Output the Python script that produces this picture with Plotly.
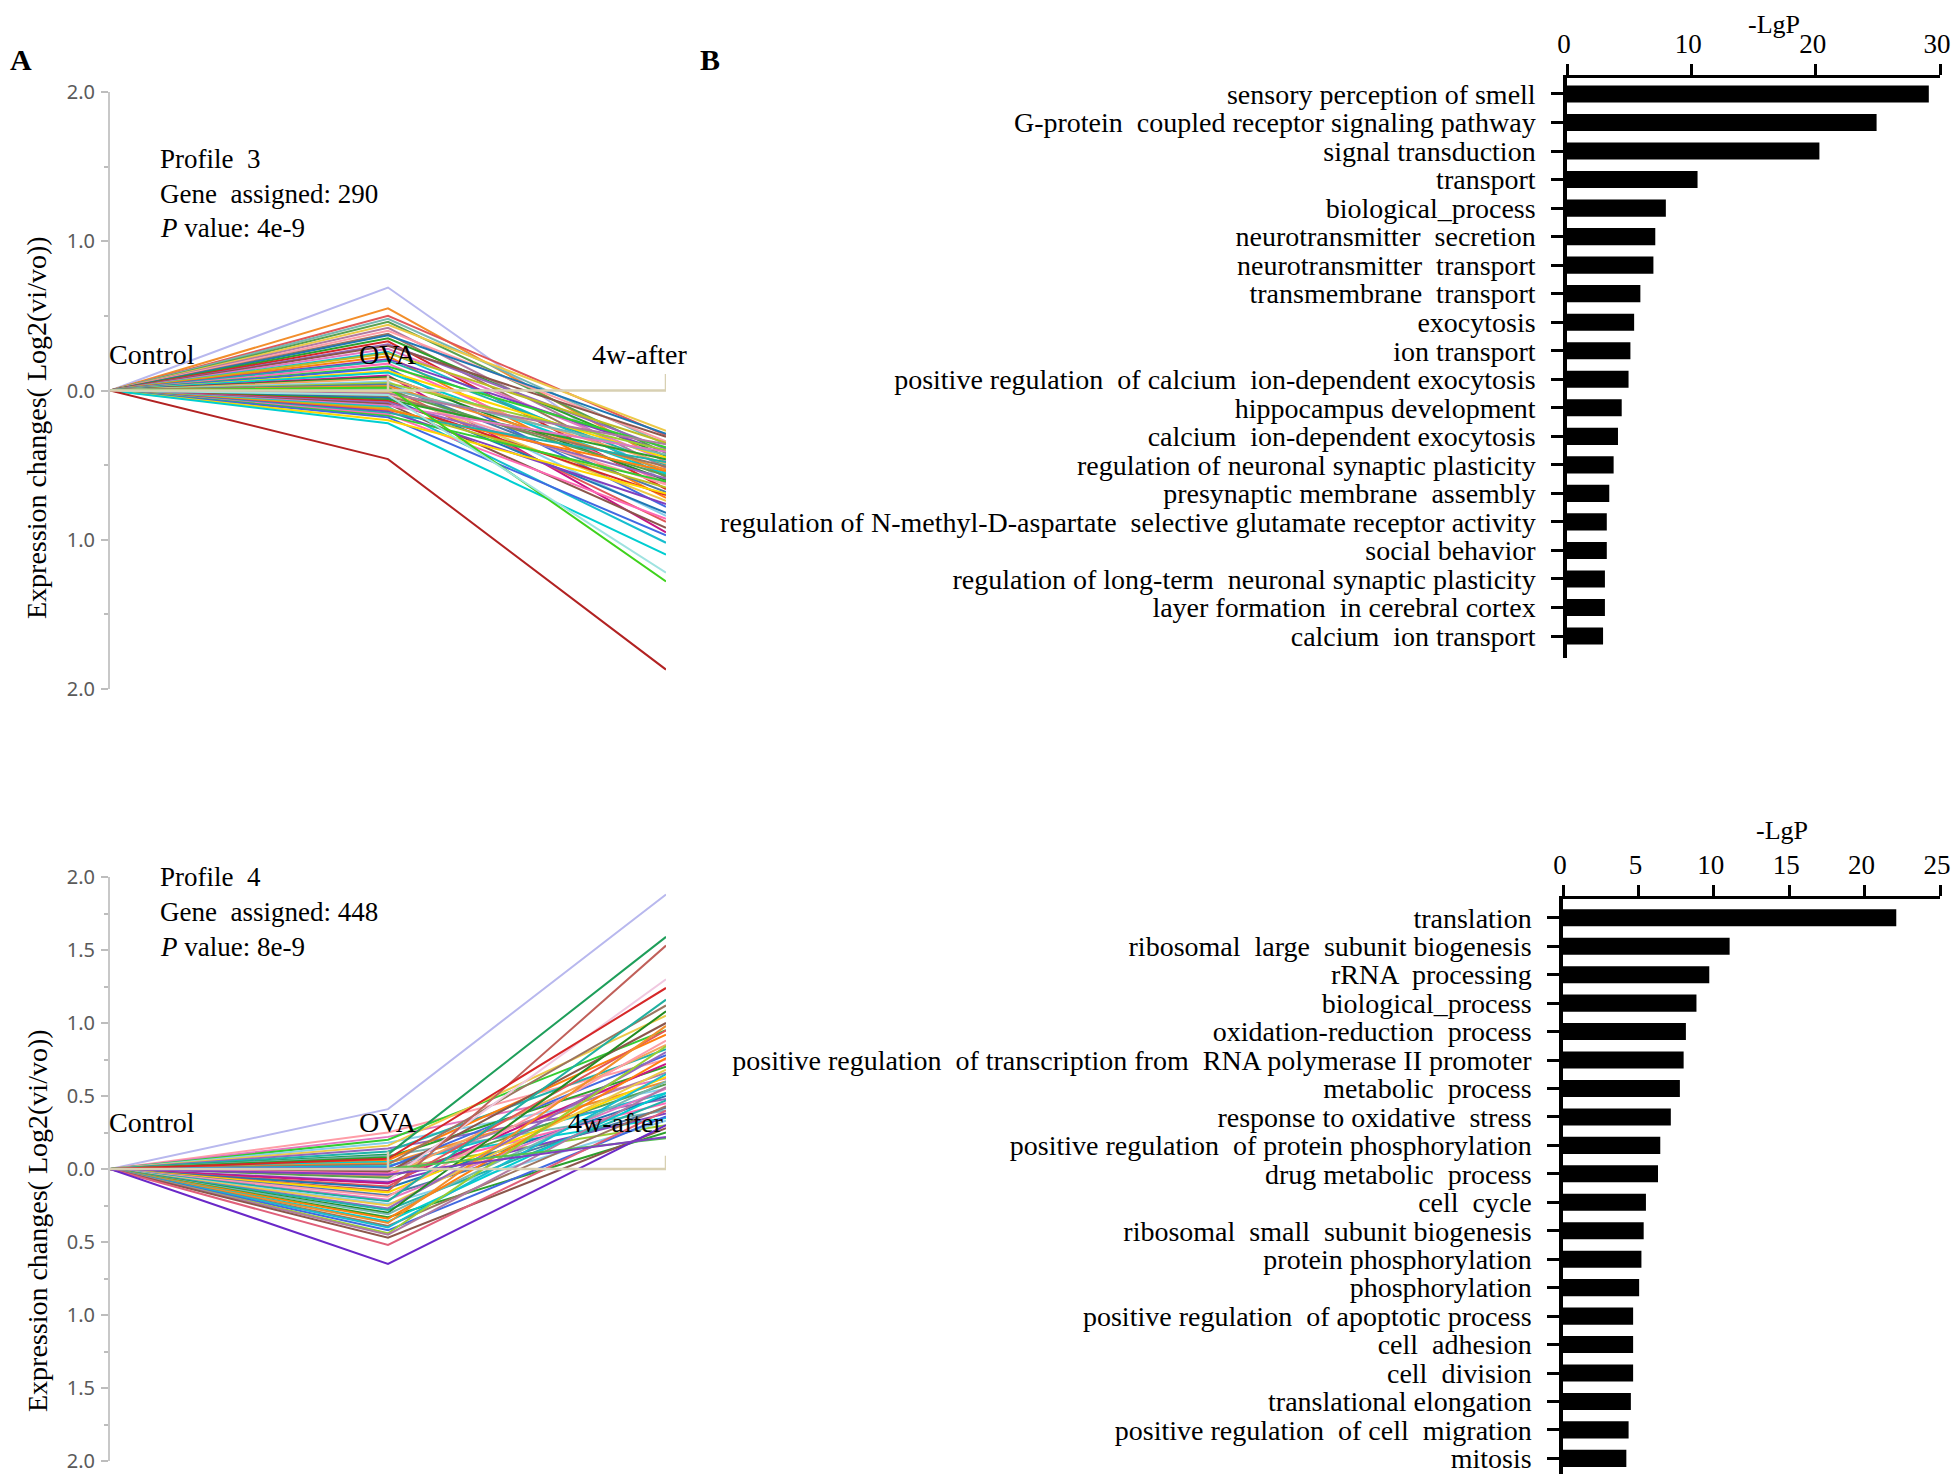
import plotly.graph_objects as go

# ---------------- data ----------------
time_points = ["Control", "OVA", "4w-after"]
control_value = 0.0

# Profile 3 (genes down-regulated at 4w-after): OVA value, 4w-after value
p3_ova = [0.69, 0.55, 0.50, 0.48, 0.46, 0.44, 0.42, 0.40, 0.38, 0.37,
          0.35, 0.33, 0.31, 0.30, 0.28, 0.26, 0.25, 0.23, 0.21, 0.20,
          0.18, 0.16, 0.15, 0.13, 0.12, 0.10, 0.09, 0.08, 0.06, 0.05,
          0.04, 0.03, 0.02, 0.01, 0.00, -0.01, -0.02, -0.03, -0.04, -0.05,
          -0.06, -0.07, -0.08, -0.09, -0.10, -0.11, -0.12, -0.13, -0.14, -0.15,
          -0.16, -0.17, -0.18, -0.20, -0.22, 0.02, -0.03, -0.46]
p3_after = [-0.62, -0.48, -0.30, -0.36, -0.42, -0.27, -0.52, -0.34, -0.58, -0.29,
            -0.44, -0.66, -0.39, -0.31, -0.47, -0.55, -0.35, -0.72, -0.41, -0.50,
            -0.62, -0.38, -0.78, -0.45, -0.56, -0.95, -0.60, -0.49, -0.84, -0.40,
            -0.68, -0.53, -0.88, -0.43, -0.57, -0.74, -0.36, -0.63, -0.51, -0.82,
            -0.46, -0.70, -0.59, -0.92, -0.41, -1.02, -0.65, -0.54, -0.76, -0.48,
            -0.86, -0.61, -0.97, -0.69, -1.10, -1.28, -1.22, -1.87]

# Profile 4 (genes up-regulated at 4w-after)
p4_ova = [0.41, 0.25, 0.22, 0.20, 0.18, 0.16, 0.14, 0.12, 0.10, 0.09,
          0.08, 0.06, 0.05, 0.04, 0.03, 0.02, 0.01, 0.00, -0.01, -0.02,
          -0.03, -0.05, -0.06, -0.08, -0.09, -0.10, -0.12, -0.13, -0.15, -0.16,
          -0.18, -0.19, -0.21, -0.22, -0.24, -0.25, -0.27, -0.28, -0.30, -0.31,
          -0.33, -0.34, -0.36, -0.37, -0.39, -0.40, -0.42, -0.44, -0.45, -0.47,
          -0.52, 0.00, -0.65, 0.07, -0.04]
p4_after = [1.88, 0.75, 0.62, 0.95, 0.55, 1.05, 0.48, 0.82, 1.59, 0.40,
            0.70, 0.92, 0.35, 0.60, 1.12, 0.52, 0.78, 0.30, 0.66, 1.00,
            0.45, 0.85, 0.58, 1.30, 0.38, 0.72, 0.95, 0.50, 1.53, 0.63,
            0.42, 0.88, 0.55, 1.16, 0.33, 0.68, 0.80, 0.47, 1.08, 0.60,
            0.25, 0.76, 0.52, 0.98, 0.43, 0.65, 0.36, 0.84, 0.56, 0.28,
            0.40, 0.21, 0.30, 1.24, 0.22]

palette = ["#4e79a7", "#f28e2b", "#e15759", "#76b7b2", "#59a14f", "#edc948",
           "#b07aa1", "#ff9da7", "#9c755f", "#1f77b4", "#2ca02c", "#d62728",
           "#9467bd", "#8c564b", "#e377c2", "#17becf", "#bcbd22", "#ff7f0e",
           "#7f3fbf", "#20b2aa", "#ff69b4", "#32cd32", "#4169e1", "#ffd700",
           "#00ced1", "#c71585", "#228b22", "#f4a460", "#87ceeb", "#9acd32"]
p3_special = {0: "#b8b8ee", 55: "#3fd21c", 56: "#9fe3e0", 57: "#b22222"}
p4_special = {0: "#b8b8ee", 8: "#1e9e5a", 23: "#f0c8e0", 28: "#c0605a",
              33: "#20b0a0", 50: "#e0607a", 51: "#50c050", 52: "#6a28c8"}

terms_top = ["sensory perception of smell",
             "G-protein  coupled receptor signaling pathway",
             "signal transduction", "transport", "biological_process",
             "neurotransmitter  secretion", "neurotransmitter  transport",
             "transmembrane  transport", "exocytosis", "ion transport",
             "positive regulation  of calcium  ion-dependent exocytosis",
             "hippocampus development", "calcium  ion-dependent exocytosis",
             "regulation of neuronal synaptic plasticity",
             "presynaptic membrane  assembly",
             "regulation of N-methyl-D-aspartate  selective glutamate receptor activity",
             "social behavior",
             "regulation of long-term  neuronal synaptic plasticity",
             "layer formation  in cerebral cortex", "calcium  ion transport"]
lgp_top = [29.1, 24.9, 20.3, 10.5, 7.95, 7.1, 6.95, 5.9, 5.4, 5.1,
           4.95, 4.4, 4.1, 3.75, 3.4, 3.2, 3.2, 3.05, 3.05, 2.9]

terms_bottom = ["translation", "ribosomal  large  subunit biogenesis",
                "rRNA  processing", "biological_process",
                "oxidation-reduction  process",
                "positive regulation  of transcription from  RNA polymerase II promoter",
                "metabolic  process", "response to oxidative  stress",
                "positive regulation  of protein phosphorylation",
                "drug metabolic  process", "cell  cycle",
                "ribosomal  small  subunit biogenesis",
                "protein phosphorylation", "phosphorylation",
                "positive regulation  of apoptotic process", "cell  adhesion",
                "cell  division", "translational elongation",
                "positive regulation  of cell  migration", "mitosis"]
lgp_bottom = [22.1, 11.05, 9.7, 8.85, 8.15, 8.0, 7.75, 7.15, 6.45, 6.3,
              5.5, 5.35, 5.2, 5.05, 4.65, 4.65, 4.65, 4.5, 4.35, 4.2]

# ---------------- layout helpers ----------------
# the html page body has an 8px margin; the figure is sized to fit inside it
OFF = 8
W, H = 1951, 1466
def fx(p):
    return min(1.0, max(0.0, (p - OFF) / W))
def fy(p):
    return min(1.0, max(0.0, 1 - (p - OFF) / H))

SERIF = "Liberation Serif"
fig = go.Figure()

# profile line traces
for i, (a, b) in enumerate(zip(p3_ova, p3_after)):
    col = p3_special.get(i, palette[i % len(palette)])
    fig.add_trace(go.Scatter(x=time_points, y=[control_value, a, b], mode="lines",
                             line=dict(color=col, width=2), xaxis="x", yaxis="y",
                             hoverinfo="skip", showlegend=False))
for i, (a, b) in enumerate(zip(p4_ova, p4_after)):
    col = p4_special.get(i, palette[(i * 7) % len(palette)])
    fig.add_trace(go.Scatter(x=time_points, y=[control_value, a, b], mode="lines",
                             line=dict(color=col, width=2), xaxis="x2", yaxis="y2",
                             hoverinfo="skip", showlegend=False))

# beige bracket (profile axis) drawn on top
bracket_x = ["Control", "OVA", "OVA", "OVA", "4w-after", "4w-after"]
fig.add_trace(go.Scatter(x=bracket_x, y=[0, 0, 0.1, 0, 0, 0.11], mode="lines",
                         line=dict(color="#d8d0b2", width=2.5), xaxis="x", yaxis="y",
                         hoverinfo="skip", showlegend=False))
fig.add_trace(go.Scatter(x=bracket_x, y=[0, 0, 0.12, 0, 0, 0.09], mode="lines",
                         line=dict(color="#d8d0b2", width=2.5), xaxis="x2", yaxis="y2",
                         hoverinfo="skip", showlegend=False))

# bars
fig.add_trace(go.Bar(x=lgp_top, y=terms_top, orientation="h", width=0.6,
                     marker=dict(color="black", line=dict(width=0)),
                     xaxis="x3", yaxis="y3", showlegend=False))
fig.add_trace(go.Bar(x=lgp_bottom, y=terms_bottom, orientation="h", width=0.6,
                     marker=dict(color="black", line=dict(width=0)),
                     xaxis="x4", yaxis="y4", showlegend=False))

line_y_common = dict(showgrid=False, zeroline=False, showline=True, linecolor="#c8c8c8",
                     linewidth=2, ticks="outside", ticklen=7, tickwidth=1.5,
                     tickcolor="#bdbdbd", range=[-2, 2], ticklabelstandoff=2,
                     automargin=False, ticklabeloverflow="allow",
                     tickfont=dict(family="Noto Sans", size=20, color="#5a5a5a"))
line_x_common = dict(type="category", categoryarray=time_points, range=[0, 2],
                     visible=False, showgrid=False, zeroline=False, automargin=False)

bar_x_common = dict(side="top", showgrid=False, zeroline=False, showline=True,
                    linecolor="black", linewidth=3, ticks="outside", ticklen=11,
                    tickwidth=3, tickcolor="black", ticklabelstandoff=0,
                    ticklabelshift=-3,
                    ticklabeloverflow="allow", automargin=False,
                    tickfont=dict(family=SERIF, size=27, color="black"))
bar_y_common = dict(type="category", showgrid=False, zeroline=False, showline=True,
                    linecolor="black", linewidth=3.5, ticks="outside", ticklen=12,
                    tickwidth=3, tickcolor="black", ticklabelstandoff=10,
                    tickmode="linear", dtick=1, automargin=False,
                    tickfont=dict(family=SERIF, size=28, color="black"))

fig.update_layout(
    template="none",
    width=W, height=H, margin=dict(l=0, r=0, t=0, b=0, pad=0),
    paper_bgcolor="white", plot_bgcolor="white", showlegend=False,
    xaxis=dict(domain=[fx(110), fx(666)], anchor="y", **line_x_common),
    yaxis=dict(domain=[fy(689), fy(92)], anchor="x",
               tickvals=[-2, -1, 0, 1, 2], ticktext=["2.0", "1.0", "0.0", "1.0", "2.0"],
               minor=dict(tickvals=[-1.5, -0.5, 0.5, 1.5], ticks="outside", ticklen=4,
                          tickcolor="#bdbdbd", showgrid=False),
               **line_y_common),
    xaxis2=dict(domain=[fx(110), fx(666)], anchor="y2", **line_x_common),
    yaxis2=dict(domain=[fy(1461), fy(877)], anchor="x2",
                tickvals=[-2, -1.5, -1, -0.5, 0, 0.5, 1, 1.5, 2],
                ticktext=["2.0", "1.5", "1.0", "0.5", "0.0", "0.5", "1.0", "1.5", "2.0"],
                minor=dict(tickvals=[-1.75, -1.25, -0.75, -0.25, 0.25, 0.75, 1.25, 1.75],
                           ticks="outside", ticklen=4, tickcolor="#bdbdbd", showgrid=False),
                **line_y_common),
    xaxis3=dict(domain=[fx(1567), fx(1940)], anchor="y3", range=[0, 30],
                tickvals=[0, 10, 20, 30], **bar_x_common),
    yaxis3=dict(domain=[fy(658), fy(78)], anchor="x3", categoryarray=terms_top,
                range=[19.77, -0.56], **bar_y_common),
    xaxis4=dict(domain=[fx(1563), fx(1940)], anchor="y4", range=[0, 25],
                tickvals=[0, 5, 10, 15, 20, 25], **bar_x_common),
    yaxis4=dict(domain=[fy(1474), fy(899)], anchor="x4", categoryarray=terms_bottom,
                range=[19.55, -0.66], **bar_y_common),
)

ann = []
def paper_text(x, y, text, size=27, xanchor="center", yanchor="middle", bold=False, angle=0):
    t = f"<b>{text}</b>" if bold else text
    ann.append(dict(x=fx(x), y=fy(y), xref="paper", yref="paper", text=t, showarrow=False,
                    xanchor=xanchor, yanchor=yanchor, textangle=angle,
                    font=dict(family=SERIF, size=size, color="black")))

paper_text(21, 59, "A", size=30, bold=True)
paper_text(710, 59, "B", size=30, bold=True)
paper_text(1774, 8, "-LgP", size=26, yanchor="top")
paper_text(1782, 830, "-LgP", size=26)
paper_text(158, 159, "Profile  3", xanchor="left")
paper_text(158, 194, "Gene  assigned: 290", xanchor="left")
paper_text(158, 228, "<i>P</i> value: 4e-9", xanchor="left")
paper_text(158, 877, "Profile  4", xanchor="left")
paper_text(158, 912, "Gene  assigned: 448", xanchor="left")
paper_text(158, 947, "<i>P</i> value: 8e-9", xanchor="left")
paper_text(37, 428, "Expression changes( Log2(vi/vo))", size=28, angle=-90)
paper_text(37, 1221, "Expression changes( Log2(vi/vo))", size=28, angle=-90)

lab_font = dict(family=SERIF, size=28, color="black")
for xa, ya, yl in [("x", "y", 0.24), ("x2", "y2", 0.32)]:
    ann.append(dict(x=0, y=yl, xref=xa, yref=ya, text="Control", showarrow=False,
                    xanchor="left", yanchor="middle", xshift=-3, font=lab_font))
    ann.append(dict(x=1, y=yl, xref=xa, yref=ya, text="OVA", showarrow=False,
                    xanchor="center", yanchor="middle", font=lab_font))
ann.append(dict(x=2, y=0.24, xref="x", yref="y", text="4w-after", showarrow=False,
                xanchor="right", yanchor="middle", xshift=24, font=lab_font))
ann.append(dict(x=2, y=0.32, xref="x2", yref="y2", text="4w-after", showarrow=False,
                xanchor="right", yanchor="middle", xshift=0, font=lab_font))

fig.update_layout(annotations=ann)
fig.write_html("out.html")
